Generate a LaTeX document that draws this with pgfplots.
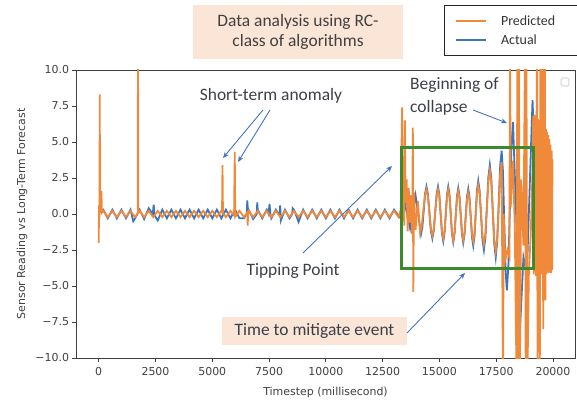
\documentclass[border=0pt]{standalone}
\usepackage{fontspec}
\setmainfont{DejaVu Sans}
\newfontfamily\calibri{Carlito}
\usepackage{pgfplots}
\pgfplotsset{compat=1.18}
\usetikzlibrary{arrows.meta}

\definecolor{predorange}{HTML}{F08A3A}
\definecolor{actblue}{HTML}{3A76C0}
\definecolor{boxgreen}{HTML}{3C8A2E}
\definecolor{arrowblue}{HTML}{4472C4}
\definecolor{peach}{HTML}{FBE5D6}
\definecolor{notetext}{HTML}{3A3F4A}
\definecolor{spine}{HTML}{404040}

\begin{document}
\begin{tikzpicture}
\path[use as bounding box] (-76bp,-42bp) rectangle (501bp,358bp);

\begin{axis}[
    at={(0,0)}, anchor=south west,
    scale only axis, width=499bp, height=288bp,
    xmin=-1000, xmax=20970, ymin=-10, ymax=10,
    scaled x ticks=false,
    xtick={0,2500,5000,7500,10000,12500,15000,17500,20000},
    xticklabels={0,2500,5000,7500,10000,12500,15000,17500,20000},
    ytick={-10,-7.5,-5,-2.5,0,2.5,5,7.5,10},
    yticklabels={−10.0,−7.5,−5.0,−2.5,0.0,2.5,5.0,7.5,10.0},
    tick align=outside, tick pos=left, major tick length=3.5bp,
    axis line style={spine, line width=0.8bp},
    every tick/.style={spine, line width=0.8bp},
    tick label style={font=\fontsize{11}{13}\selectfont, text=black!75},
    xticklabel style={yshift=-2bp},
    xlabel={Timestep (millisecond)},
    ylabel={Sensor Reading vs Long-Term Forecast},
    label style={font=\fontsize{11}{13}\selectfont, text=black!75},
    xlabel style={at={(axis description cs:0.5,-0.118)}, anchor=center},
    ylabel style={at={(axis description cs:-0.108,0.5)}, anchor=center},
    reverse legend,
    legend image code/.code={\draw[#1, line width=2.6bp] (0bp,0bp) -- (30bp,0bp);},
    legend style={at={(axis description cs:0.7375,1.2257)}, anchor=north west,
        draw=black!85, line width=0.9bp, fill=white,
        inner xsep=10bp, inner ysep=8bp, row sep=4bp,
        font=\calibri\fontsize{14}{16}\selectfont, text=black!80,
        cells={anchor=west},
        /tikz/every odd column/.append style={column sep=12bp}},
]
% Actual
\addplot[actblue, line width=1.8bp] coordinates {
(0,0.1)(200,0.3)(400,-0.3)(600,0.3)(800,-0.3)(1000,0.3)(1200,-0.3)(1400,0.3)
(1520,-0.5)(1600,-0.3)(1800,0.3)(2000,-0.35)(2200,0.4)(2380,0.0)(2420,0.65)
(2460,-0.1)(2600,-0.45)(2800,0.3)(3000,-0.3)(3200,0.3)(3400,-0.3)(3600,0.3)
(3800,-0.3)(4000,0.3)(4200,-0.3)(4400,0.3)(4600,-0.3)(4800,0.3)(5000,-0.3)
(5200,0.3)(5400,-0.3)(5600,0.3)(5800,-0.3)(6000,0.3)(6200,-0.3)(6400,-0.3)
(6520,0.0)(6540,0.95)(6580,0.0)(6600,0.3)(6800,-0.35)(6960,0.0)(6980,0.8)
(7000,0.3)(7200,-0.3)(7400,0.3)(7480,0.0)(7520,0.7)(7560,0.0)(7600,-0.3)
(7800,0.3)(7960,-0.1)(7990,0.6)(8020,-0.45)(8200,0.3)(8400,-0.3)(8520,0.0)
(8540,0.4)(8600,0.3)(8800,-0.55)(9000,0.3)(9200,-0.3)(9400,0.3)(9600,-0.3)
(9800,0.3)(10000,-0.3)(10200,0.3)(10400,-0.3)(10600,0.3)(10800,-0.3)(11000,0.3)
(11200,-0.3)(11400,0.3)(11600,-0.3)(11800,0.3)(12000,-0.3)(12200,0.3)(12400,-0.3)
(12600,0.3)(12800,-0.3)(13000,0.3)(13240,-0.2)
(13470,0.8)(13710,-1.0)(13950,1.3)(14190,-1.4)
(14250,-0.92)(14370,1.42)(14430,1.9)(14495,1.37)(14625,-1.17)(14690,-1.7)
(14752,-1.17)(14877,1.37)(14940,1.9)(14997,1.34)(15112,-1.34)(15170,-1.9)
(15225,-1.34)(15335,1.34)(15390,1.9)(15445,1.34)(15555,-1.39)(15610,-1.95)
(15665,-1.40)(15775,1.25)(15830,1.8)(15885,1.24)(15995,-1.44)(16050,-2.0)
(16105,-1.45)(16215,1.2)(16270,1.75)(16325,1.17)(16435,-1.62)(16490,-2.2)
(16545,-1.54)(16655,1.64)(16710,2.3)(16772,1.6)(16897,-1.8)(16960,-2.5)
(17025,-1.64)(17155,2.54)(17220,3.4)(17285,2.46)(17415,-2.06)(17480,-3.0)
(17545,-1.92)(17675,3.32)(17740,4.4)(17797,2.98)(17912,-3.88)(17970,-5.3)
(18037,-3.59)(18172,4.69)(18240,6.4)
(18550,-8.0)(18700,-3.0)(18850,-4.2)(19100,7.9)(19300,-0.3)(19500,1.0)(19650,-0.6)
(19800,0.8)(19970,-0.3)
};
\addlegendentry{Actual}
% Predicted
\addplot[predorange, line width=1.8bp] coordinates {
(0,-2.0)(15,0.6)(35,-0.3)(45,8.3)(60,0.2)(100,0.5)(120,1.6)(140,0.1)
(200,0.22)(400,-0.22)(600,0.22)(800,-0.22)(1000,0.22)(1200,-0.22)(1400,0.22)
(1600,-0.22)(1715,0)(1730,12)(1745,0.1)(1800,0.22)(2000,-0.22)(2200,0.22)
(2400,-0.22)(2600,0.22)(2800,-0.22)(3000,0.22)(3200,-0.22)(3400,0.22)(3600,-0.22)
(3800,0.22)(4000,-0.22)(4200,0.22)(4400,-0.22)(4600,0.22)(4800,-0.22)(5000,0.22)
(5200,-0.22)(5400,0.22)(5430,0.15)(5450,3.4)(5470,0.1)(5600,-0.22)(5800,0.22)
(5960,-0.1)(5990,4.3)(6010,-0.2)(6200,0.22)(6400,-0.22)(6540,0.1)(6560,-0.8)
(6580,0.15)(6600,0.22)(6800,-0.22)(7000,0.22)(7200,-0.22)(7400,0.22)(7600,-0.22)
(7800,0.22)(8000,-0.22)(8200,0.22)(8400,-0.22)(8600,0.22)(8800,-0.22)(9000,0.22)
(9200,-0.22)(9400,0.22)(9600,-0.22)(9800,0.22)(10000,-0.22)(10200,0.22)
(10400,-0.22)(10600,0.22)(10800,-0.22)(11000,0.22)(11200,-0.22)(11400,0.22)
(11600,-0.22)(11800,0.22)(12000,-0.22)(12200,0.22)(12400,-0.22)(12600,0.22)
(12800,-0.22)(13000,0.22)(13200,-0.22)
(13300,0.3)(13330,4.5)(13360,7.4)(13390,0.3)(13420,3.2)(13450,-0.8)(13480,6.5)
(13510,0.8)(13560,2.4)(13600,-1.2)(13650,1.8)(13700,-0.6)(13750,1.3)(13800,-1.4)
(13830,6.0)(13850,-5.4)(13880,1.5)(13950,-1.1)(14050,0.9)(14150,-1.3)
(14220,-0.86)(14360,1.26)(14430,1.7)(14495,1.23)(14625,-1.03)(14690,-1.5)
(14752,-1.03)(14877,1.23)(14940,1.7)(14997,1.2)(15112,-1.2)(15170,-1.7)
(15225,-1.2)(15335,1.2)(15390,1.7)(15445,1.19)(15555,-1.29)(15610,-1.8)
(15665,-1.3)(15775,1.1)(15830,1.6)(15885,1.1)(15995,-1.3)(16050,-1.8)
(16105,-1.32)(16215,1.02)(16270,1.5)(16325,1.0)(16435,-1.4)(16490,-1.9)
(16545,-1.33)(16655,1.43)(16710,2.0)(16772,1.40)(16897,-1.5)(16960,-2.1)
(17025,-1.35)(17155,2.25)(17220,3.0)(17285,2.18)(17415,-1.78)(17480,-2.6)
(17545,-1.69)(17675,2.69)(17740,3.6)
(17800,-12)(17830,0)(17900,-3.2)(17990,-2.5)(18080,-3)(18110,12)
(18140,0.5)(18240,3.7)(18320,-1)(18400,-12)(18430,12)(18470,-12)(18500,12)
(18540,-12)(18600,2.4)(18700,-2.2)(18770,12)(18800,-12)(18830,12)(18870,-12)
(18940,-4)(19020,-1.5)(19100,3)
(19130,6.8)(19155,-4.2)(19180,6.9)(19205,-4.0)(19230,6.7)(19255,-4.3)(19280,6.8)
(19300,12)(19320,-12)(19345,6.6)(19370,-4.1)(19395,6.5)(19420,-12)(19445,12)
(19470,-4.2)(19495,6.3)(19520,-4.0)(19545,12)(19570,-8)(19595,6.2)(19620,-4.1)
(19645,12)(19665,-6)(19690,5.9)(19715,-4.2)(19740,5.7)(19765,-4.0)(19790,5.5)
(19815,-4.1)(19840,5.2)(19865,-4.0)(19890,4.8)(19915,-4.1)(19940,4.4)(19965,-3.9)
(19975,3.8)
};
\addlegendentry{Predicted\hspace*{20bp}}

\draw[boxgreen, line width=3bp] (axis cs:13350,4.65) rectangle (axis cs:19160,-3.75);
\end{axis}

% annotations, in pixel coordinates of the reference
\begin{scope}[x=1bp, y=-1bp, shift={(-76bp,358bp)}]
\node[fill=peach, minimum width=210bp, minimum height=54bp, inner sep=0pt,
      align=center, text=black!75,
      font=\calibri\fontsize{17.5}{20}\selectfont] at (298,32)
      {Data analysis using RC-\\class of algorithms};
\node[font=\calibri\fontsize{17.5}{20}\selectfont, text=notetext] at (271,96)
      {Short-term anomaly};
\draw[arrowblue, line width=0.9bp, -{Stealth[length=6bp,width=5bp]}] (263,110) -- (223,158);
\draw[arrowblue, line width=0.9bp, -{Stealth[length=6bp,width=5bp]}] (270,110) -- (238,162);
\node[font=\calibri\fontsize{17.5}{20}\selectfont, text=notetext] at (293,271)
      {Tipping Point};
\draw[arrowblue, line width=0.9bp, -{Stealth[length=6bp,width=5bp]}] (303,253) -- (392,166);
\node[anchor=west, align=left, inner sep=0pt, text=notetext,
      font=\calibri\fontsize{17.5}{23}\selectfont] at (410,96.5)
      {Beginning of\\collapse};
\draw[arrowblue, line width=0.9bp, -{Stealth[length=6bp,width=5bp]}] (473,110) -- (507,123);
\node[fill=peach, minimum width=185bp, minimum height=28bp, inner sep=0pt,
      text=notetext, font=\calibri\fontsize{17.5}{20}\selectfont] at (314.5,331)
      {Time to mitigate event};
\draw[arrowblue, line width=0.9bp, -{Stealth[length=6bp,width=5bp]}] (407,333) -- (465,273);
\draw[black!25, line width=0.6bp, rounded corners=1.5bp] (561,78) rectangle (569,86);
\end{scope}
\end{tikzpicture}
\end{document}
